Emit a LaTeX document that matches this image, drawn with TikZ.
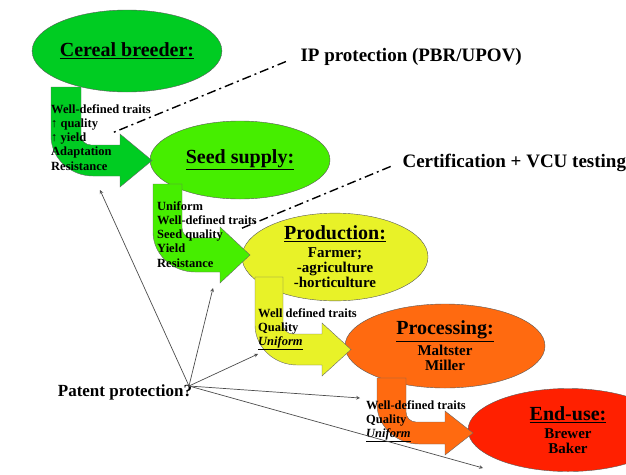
\documentclass[tikz,border=0pt]{standalone}
\usepackage{fontspec}
\setmainfont{Liberation Serif}
\usetikzlibrary{shapes.geometric, positioning, arrows}

\definecolor{breedgreen}{RGB}{0,204,34}
\definecolor{seedgreen}{RGB}{70,238,0}
\definecolor{prodyellow}{RGB}{232,242,40}
\definecolor{procorange}{RGB}{255,106,16}
\definecolor{usered}{RGB}{255,32,0}

\newcommand{\bentarrow}[8]{%
	\draw[bent,fill=#1] (#2,#4) -- (#3,#4) -- (#3,#5-10) .. controls (#3,#5-4.5) and (#3+4.5,#5) .. (#3+10,#5)
		-- (#7,#5) -- (#7,#5-11) -- (#8,{(#5+#6)/2}) -- (#7,#6+11) -- (#7,#6)
		-- (#2+42,#6) .. controls (#2+19,#6) and (#2,#6-18) .. (#2,#6-40) -- cycle;}

\tikzset{
	stage/.style={ellipse, draw=black!65, thin, inner sep=0pt, align=center, font=\bfseries\fontsize{15}{15}\selectfont},
	bent/.style={draw=black!60, thin},
	note/.style={anchor=north west, align=left, inner sep=0pt, font=\bfseries\fontsize{12.5}{14.3}\selectfont},
	patent/.style={draw=black!70, line width=0.7pt, -stealth},
	cert/.style={line width=1.4pt, dash pattern=on 9pt off 4pt on 2pt off 4pt},
	title/.style={font=\bfseries\fontsize{19}{22}\selectfont}
}
\newcommand{\stagename}[1]{{\fontsize{20}{20}\selectfont\underline{#1}}}

\begin{document}
\begin{tikzpicture}[x=1pt, y=-1pt]
	\clip (0,0) rectangle (626,474);
	\useasboundingbox (0,0) rectangle (626,474);

	\node[stage, fill=breedgreen, minimum width=174pt, minimum height=82pt] (breeder) at (127,51) {\stagename{Cereal breeder:}};
	\node[stage, fill=seedgreen, minimum width=180pt, minimum height=78pt] (seed) at (240,160) {\stagename{Seed supply:}};
	\node[stage, fill=prodyellow, minimum width=186pt, minimum height=80pt] (prod) at (335,257) {\stagename{Production:}\\[3pt] Farmer;\\ -agriculture\\ -horticulture};
	\node[stage, fill=procorange, minimum width=200pt, minimum height=84pt] (proc) at (445,346) {\stagename{Processing:}\\[3pt] Maltster\\ Miller};
	\node[stage, fill=usered, minimum width=200pt, minimum height=83pt] (use) at (568,430) {\stagename{End-use:}\\[3pt] Brewer\\ Baker};

	\bentarrow{breedgreen}{51}{81}{87}{145}{176}{120}{152}
	\bentarrow{seedgreen}{153}{182}{184}{238}{272}{220}{250}
	\bentarrow{prodyellow}{255}{283}{277}{334}{365}{322}{351}
	\bentarrow{procorange}{377}{406}{378}{422}{444}{445}{473}

	\node[note] (n1) at (51,104) {Well-defined traits\\ {\mdseries↑} quality\\ {\mdseries↑} yield\\ Adaptation\\ Resistance};
	\node[note] (n2) at (157,201) {Uniform\\ Well-defined traits\\ Seed quality\\ Yield\\ Resistance};
	\node[note] (n3) at (258,308) {Well defined traits\\ Quality\\ \underline{\itshape Uniform}};
	\node[note] (n4) at (366,400) {Well-defined traits\\ Quality\\ \underline{\itshape Uniform}};

	\node[title, anchor=west] (ip) at (297,57) {IP protection (PBR/UPOV)};
	\node[title, anchor=west] (vcu) at (399,163) {Certification + VCU testing};
	\node[font=\bfseries\fontsize{17}{19}\selectfont] (pp) at (125,392) {Patent protection?};

	\coordinate (ipfoot) at (112,133);
	\coordinate (vcufoot) at (240,229);
	\draw[cert, shorten <=12pt] (ip.west) -- (ipfoot);
	\draw[cert, shorten <=9pt] (vcu.west) -- (vcufoot);

	\coordinate (hub) at (189,386);
	\coordinate (p1) at (100,190);
	\coordinate (p2) at (213,288);
	\coordinate (p3) at (258,354);
	\coordinate (p4) at (360,398);
	\coordinate (p5) at (483,468);
	\foreach \p in {p1,p2,p3,p4,p5}
		\draw[patent] (hub) -- (\p);
\end{tikzpicture}
\end{document}
